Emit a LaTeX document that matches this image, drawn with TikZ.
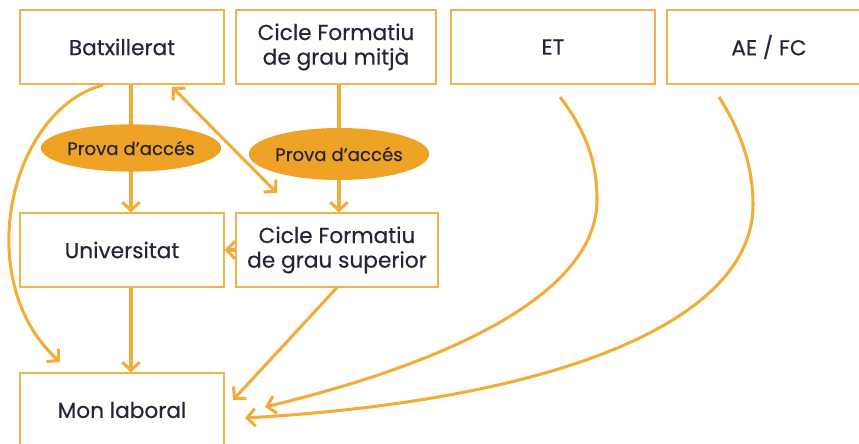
\documentclass[tikz,border=0pt]{standalone}
\usepackage{fontspec}
\setmainfont{Poppins}
\newfontfamily\stagefont{Poppins}[FakeBold=0.4]
\usetikzlibrary{positioning,shapes.geometric,arrows.meta,backgrounds}

\definecolor{boxline}{HTML}{F0B24C}
\definecolor{arrowline}{HTML}{F2AC38}
\definecolor{ovalfill}{HTML}{EFA326}
\definecolor{textcol}{HTML}{25253A}

\begin{document}
\begin{tikzpicture}[x=0.03cm, y=-0.03cm,
    stagebox/.style={draw=boxline, line width=1pt, rectangle,
        minimum width=6.12cm, minimum height=2.22cm, align=center,
        text=textcol, font=\stagefont\fontsize{18.5}{21}\selectfont},
    testoval/.style={ellipse, fill=ovalfill, inner sep=0pt,
        text=textcol, font=\stagefont\fontsize{15.5}{17}\selectfont},
    link/.style={draw=arrowline, line width=2.6pt,
        -{Straight Barb[length=7pt,width=15pt]}}]

    % page frame
    \path[use as bounding box] (0,0) rectangle (859,444);
    \clip (0,0) rectangle (859,444);

    % top row
    \node[stagebox] (batx) at (122,47) {Batxillerat};
    \node[stagebox,
    minimum width = 6.0cm] (cfgm) at (336,47) {Cicle Formatiu\\de grau mitjà};
    \node[stagebox] (et) at (553,47) {ET};
    \node[stagebox] (aefc) at (769,47) {AE / FC};

    % middle row
    \node[stagebox] (univ) at (122,250) {Universitat};
    \node[stagebox,
    minimum width = 6.06cm] (cfgs) at (337,250) {Cicle Formatiu\\de grau superior};

    % bottom row
    \node[stagebox] (mon) at (122,410) {Mon laboral};

    % access tests
    \node[testoval,
    minimum width = 5.1cm,
    minimum height = 1.42cm] (prova1) at (131,148) {Prova d’accés};
    \node[testoval,
    minimum width = 4.56cm,
    minimum height = 1.56cm] (prova2) at (339,154) {Prova d’accés};

    % free ends of the connectors
    \coordinate (batxout) at (103,85);
    \coordinate (monA) at (60,362);
    \coordinate (monB) at (233,400);
    \coordinate (monC) at (265,407);
    \coordinate (monD) at (245,418);
    \coordinate (swapA) at (172,87);
    \coordinate (swapB) at (277,193);
    \coordinate (etout) at (560,97);
    \coordinate (aefcout) at (719,97);

    % drawing connectors
    \begin{scope}[on background layer]
        \draw[link] (prova1 |- batx.south) -- (prova1 |- univ.north);
        \draw[link] (prova2 |- cfgm.south) -- (prova2 |- cfgs.north);
        \draw[link] (prova1 |- univ.south) -- (prova1 |- mon.north);
    \end{scope}
    \draw[link] (cfgs.west) -- (univ.east);
    \draw[link, {Straight Barb[length=7pt,width=15pt]}-{Straight Barb[length=7pt,width=15pt]}] (swapA) -- (swapB);
    \draw[link] (batxout) .. controls (10,110) and (-30,280) .. (monA);
    \draw[link] (cfgs.south) -- (monB);
    \draw[link] (etout) .. controls (585,130) and (597,160) .. (597,200)
        .. controls (597,290) and (460,360) .. (monC);
    \draw[link] (aefcout) .. controls (740,130) and (753,165) .. (753,205)
        .. controls (753,320) and (560,400) .. (monD);

\end{tikzpicture}
\end{document}
